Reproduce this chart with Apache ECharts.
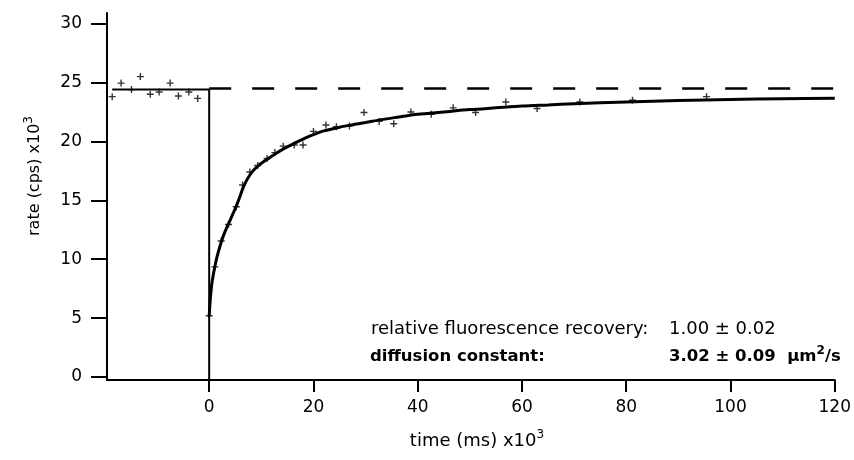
<!DOCTYPE html>
<html>
<head>
<meta charset="utf-8">
<script src="https://cdn.jsdelivr.net/npm/echarts@6/dist/echarts.min.js"></script>
<style>
  html, body { margin: 0; padding: 0; background: #fff; }
  #chart { width: 854px; height: 460px; }
</style>
</head>
<body>
<div id="chart"></div>
<script>
// tick positions
const xTicks = [0, 20, 40, 60, 80, 100, 120]
const yTicks = [0, 5, 10, 15, 20, 25, 30]

// pre-bleach measurements (time x10^3 ms, rate x10^3 cps)
const preTime = [-18.6, -16.9, -14.9, -13.2, -11.3, -9.6, -7.5, -5.9, -3.9, -2.2]
const preRate = [23.8, 24.95, 24.4, 25.5, 24.0, 24.2, 24.95, 23.85, 24.2, 23.65]

// recovery measurements
const recTime = [0, 1.1, 2.3, 3.7, 5.2, 6.4, 7.8, 9.3, 11.1, 12.6, 14.2, 16.3, 18.0, 20.0, 22.4,
  24.4, 26.9, 29.7, 32.6, 35.4, 38.7, 42.6, 46.8, 51.1, 56.9, 62.9, 71.1, 81.2, 95.4]
const recRate = [5.2, 9.35, 11.55, 12.95, 14.45, 16.3, 17.4, 17.95, 18.55, 19.05, 19.6, 19.7, 19.7, 20.85, 21.4,
  21.25, 21.3, 22.45, 21.7, 21.5, 22.5, 22.3, 22.85, 22.45, 23.35, 22.8, 23.35, 23.5, 23.8]

// fitted recovery curve
const fitTime = [0, 0.25, 0.5, 0.8, 1.1, 1.5, 2, 2.5, 3, 3.7, 4.4, 5.2, 5.8, 6.4, 7, 7.8, 8.6, 9.5,
  10.5, 11.5, 12.7, 14, 15.5, 17, 18.5, 20, 22, 24, 26, 28, 30, 33, 36, 40, 45, 50, 55, 60, 65, 70,
  80, 90, 100, 110, 120]
const fitRate = [5.2, 6.8, 7.9, 8.7, 9.4, 10.2, 11.0, 11.7, 12.3, 13.0, 13.7, 14.5, 15.2, 15.95, 16.55, 17.15, 17.6, 17.97,
  18.3, 18.6, 18.95, 19.3, 19.65, 19.98, 20.3, 20.58, 20.9, 21.1, 21.3, 21.45, 21.6, 21.85, 22.05, 22.3, 22.5, 22.7, 22.85, 23.0, 23.1, 23.2,
  23.35, 23.48, 23.56, 23.62, 23.67]

// pre-bleach level and bleach drop
const baseTime = [-18.6, 0, 0]
const baseRate = [24.4, 24.4, -0.25]

// full recovery level
const plateauTime = [0, 120]
const plateauRate = [24.5, 24.5]

const font = 'DejaVu Sans'
const plus = 'path://M4,0h2v10h-2z M0,4h10v2h-10z'

function zip(xs, ys) {
  return xs.map((x, i) => [x, ys[i]])
}

const chart = echarts.init(document.getElementById('chart'))

chart.setOption({
  animation: false,
  backgroundColor: '#fff',
  grid: { left: 107, right: 13, top: 13, bottom: 80 },
  xAxis: {
    type: 'value',
    min: -19.6,
    max: 120,
    splitLine: { show: false },
    axisLine: { onZero: false, lineStyle: { color: '#000', width: 2 } },
    axisTick: { customValues: xTicks, length: 12, lineStyle: { color: '#000', width: 2 } },
    axisLabel: { customValues: xTicks, color: '#000', fontSize: 17, fontFamily: font, margin: 19 }
  },
  yAxis: {
    type: 'value',
    min: -0.25,
    max: 30.9,
    splitLine: { show: false },
    axisLine: { onZero: false, lineStyle: { color: '#000', width: 2 } },
    axisTick: { customValues: yTicks, length: 16, lineStyle: { color: '#000', width: 2 } },
    axisLabel: { customValues: yTicks, color: '#000', fontSize: 17, fontFamily: font, margin: 25 }
  },
  series: [
    {
      type: 'line',
      data: zip(baseTime, baseRate),
      symbol: 'none',
      lineStyle: { color: '#000', width: 2 }
    },
    {
      type: 'line',
      data: zip(plateauTime, plateauRate),
      symbol: 'none',
      lineStyle: { color: '#000', width: 2.5, type: [22, 21] }
    },
    {
      type: 'scatter',
      data: zip(preTime, preRate),
      symbol: plus,
      symbolSize: 7,
      itemStyle: { color: '#000' }
    },
    {
      type: 'scatter',
      data: zip(recTime, recRate),
      symbol: plus,
      symbolSize: 7,
      itemStyle: { color: '#000' }
    },
    {
      type: 'line',
      data: zip(fitTime, fitRate),
      symbol: 'none',
      smooth: 0.3,
      lineStyle: { color: '#000', width: 3 }
    }
  ],
  graphic: [
    {
      type: 'text', x: 371, y: 329,
      style: { text: 'relative fluorescence recovery:', fill: '#000', fontSize: 18, fontFamily: font, verticalAlign: 'middle' }
    },
    {
      type: 'text', x: 669, y: 329,
      style: { text: '1.00 ± 0.02', fill: '#000', fontSize: 18, fontFamily: font, verticalAlign: 'middle' }
    },
    {
      type: 'text', x: 370, y: 357,
      style: { text: 'diffusion constant:', fill: '#000', fontSize: 16.5, fontWeight: 'bold', fontFamily: font, verticalAlign: 'middle' }
    },
    {
      type: 'text', x: 669, y: 357,
      style: {
        text: '3.02 ± 0.09  µm{sup|2}/s',
        fill: '#000', fontSize: 16.5, fontWeight: 'bold', fontFamily: font, verticalAlign: 'middle',
        rich: { sup: { fontSize: 12, fontWeight: 'bold', fontFamily: font, padding: [0, 0, 12, 0] } }
      }
    },
    {
      type: 'text', x: 35, y: 176, rotation: Math.PI / 2,
      style: {
        text: 'rate (cps) x10{sup|3}',
        fill: '#000', fontSize: 16, fontFamily: font, align: 'center', verticalAlign: 'middle',
        rich: { sup: { fontSize: 12, fontFamily: font, padding: [0, 0, 12, 0] } }
      }
    },
    {
      type: 'text', x: 477, y: 441,
      style: {
        text: 'time (ms) x10{sup|3}',
        fill: '#000', fontSize: 18, fontFamily: font, align: 'center', verticalAlign: 'middle',
        rich: { sup: { fontSize: 12, fontFamily: font, padding: [0, 0, 12, 0] } }
      }
    }
  ]
})
</script>
</body>
</html>
